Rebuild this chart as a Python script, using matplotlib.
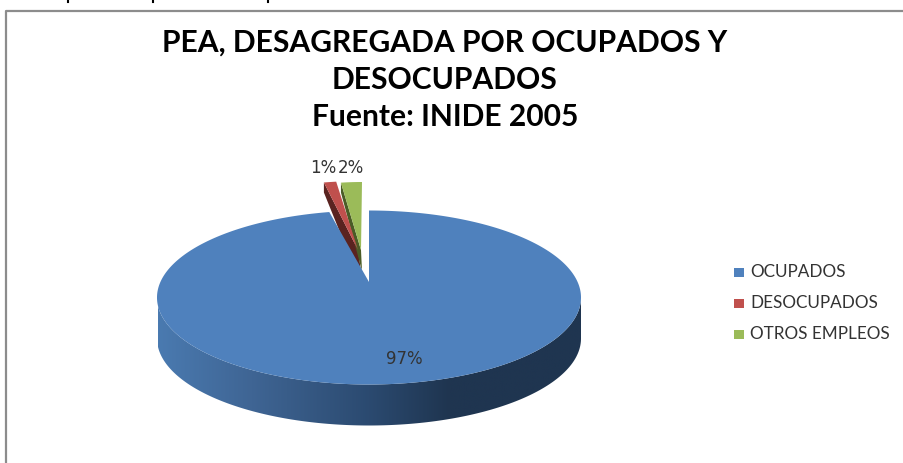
import numpy as np
import matplotlib
matplotlib.use('Agg')
import matplotlib.pyplot as plt
from matplotlib.patches import Polygon
from matplotlib.colors import LinearSegmentedColormap

categories = ['OCUPADOS', 'DESOCUPADOS', 'OTROS EMPLEOS']
values = [97, 1, 2]
labels = ['97%', '1%', '2%']
title = 'PEA, DESAGREGADA POR OCUPADOS Y\nDESOCUPADOS\nFuente: INIDE 2005'

top_colors = ['#4f81bd', '#c0504d', '#9bbb59']
dark_colors = ['#2a4a70', '#5a2320', '#4a5c26']

plt.rcParams['font.family'] = ['Lato', 'DejaVu Sans']

fig = plt.figure(figsize=(9.04, 4.63), dpi=100)
ax = fig.add_axes([0, 0, 1, 1])
ax.axis('off')

# chart frame
ax.plot([6, 6, 904], [463, 11, 11], color='#8c8c8c', lw=1.6)

# descenders of the cut off line above the chart
for xx in [68, 153, 268]:
    ax.plot([xx, xx], [0, 2], color='black', lw=1.5)

# slice angles, clockwise from the top
shares = np.array(values) / sum(values) * 2 * np.pi
ends = np.cumsum(shares)
starts = ends - shares

RX, RY, DEPTH = 212, 87, 41
CX, CY = 369, 297.5


def rim(a):
    return CX + RX * np.sin(a), CY - RY * np.cos(a)


# small exploded slices sit behind the blue one
# (tip x, tip y, width scale, height scale, lit tip x, lit tip y)
small = {1: (361, 265, 198, 84, 358, 250), 2: (362, 265, 168, 83, 361, 250)}
for i, (tx, ty, sx, sy, lx, ly) in small.items():
    t = np.linspace(starts[i], ends[i], 10)
    x = tx + sx * np.sin(t)
    y = ty - sy * np.cos(t)
    side = [(x[0], y[0]), (x[0], y[0] + 10)]
    if i == 1:
        # runs on below the blue edge, blue hides the rest
        side.append((x[0] + 21, y[0] + 62))
    side += [(tx, ty + 6), (lx, ly)]
    ax.add_patch(Polygon(side, fc=dark_colors[i], ec='none', zorder=1))
    ax.add_patch(Polygon(list(zip(x, y)) + [(lx, ly)], fc=top_colors[i], ec='none', zorder=2))

# blue side wall with gradient
t = np.linspace(np.pi / 2, 3 * np.pi / 2, 200)
x, y = rim(t)
wall = list(zip(x, y)) + list(zip(x[::-1], y[::-1] + DEPTH))
grad = LinearSegmentedColormap.from_list(
    'wall', [(0, '#4a7ab0'), (0.22, '#3f6594'), (0.5, '#2b4a70'), (0.69, '#1f3550'), (1, '#1f3550')])
im = ax.imshow(np.linspace(0, 1, 256)[None, :], cmap=grad, extent=[158, 581, 430, 290],
               aspect='auto', zorder=3)
im.set_clip_path(Polygon(wall, transform=ax.transData))
ax.set_xlim(0, 904)
ax.set_ylim(463, 0)

# blue top face
t = np.linspace(starts[0], ends[0], 400)
x, y = rim(t)
ax.add_patch(Polygon(list(zip(x, y)) + [(369, 282)], fc=top_colors[0], ec='none', zorder=4))

# data labels
label_font = ['DejaVu Sans']
ax.text(404, 359, labels[0], ha='center', va='center', fontsize=12, color='#333333', family=label_font, zorder=5)
ax.text(323, 168, labels[1], ha='center', va='center', fontsize=12, color='#333333', family=label_font, zorder=5)
ax.text(351, 168, labels[2], ha='center', va='center', fontsize=12, color='#333333', family=label_font, zorder=5)

# title
ax.text(445, 80, title, ha='center', va='center', fontsize=21.6, fontweight='bold',
        color='black', linespacing=1.4)

# legend
for name, color, yy in zip(categories, top_colors, [272, 303, 334]):
    ax.add_patch(Polygon([(734, yy - 4), (744, yy - 4), (744, yy + 5), (734, yy + 5)], fc=color, ec='none'))
    ax.text(750, yy, name, ha='left', va='center', fontsize=12.3, color='#333333')

fig.savefig('out.png', dpi=100)
